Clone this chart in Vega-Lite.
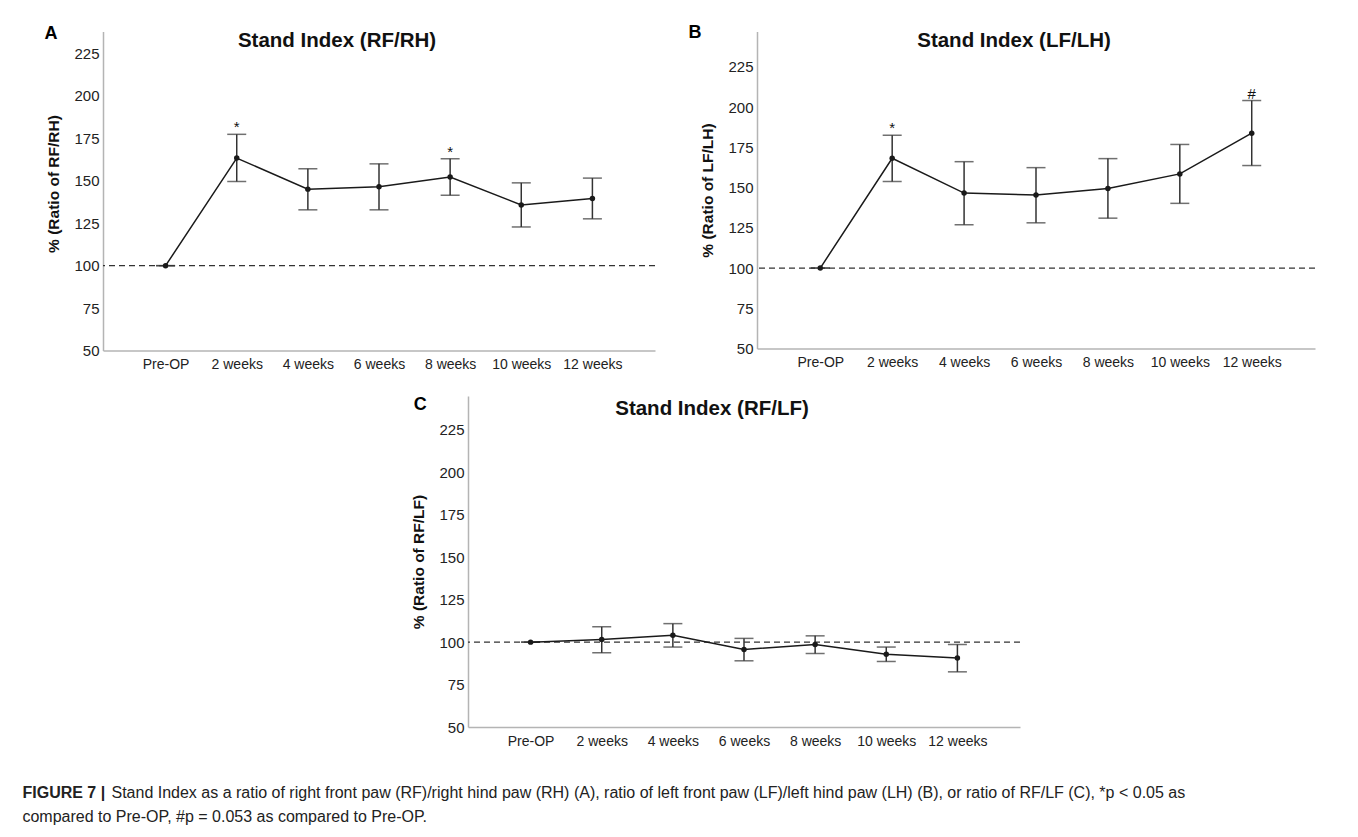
{
  "$schema": "https://vega.github.io/schema/vega-lite/v6.json",
  "background": "white",
  "padding": {"left": 22, "top": 23.5, "right": 0, "bottom": 0},
  "autosize": {"type": "pad"},
  "config": {
    "view": {"stroke": null},
    "font": "Liberation Sans",
    "axisY": {
      "domainColor": "#b4b4b4", "domainWidth": 1.5, "ticks": false, "tickSize": 0, "grid": false,
      "labelFont": "Liberation Sans", "labelFontSize": 15, "labelColor": "#222222", "labelPadding": 4,
      "titleFont": "Liberation Sans", "titleFontSize": 15.5, "titleFontWeight": "bold", "titleColor": "#111111", "titlePadding": 12
    },
    "axisX": {
      "domainColor": "#b4b4b4", "domainWidth": 1.5, "ticks": false, "tickSize": 0, "grid": false,
      "labelFont": "Liberation Sans", "labelFontSize": 14, "labelColor": "#222222", "labelPadding": 7, "labelAngle": 0
    }
  },
  "datasets": {
    "stand": [
      {"panel": "A", "time": "Pre-OP", "mean": 100, "lo": 100, "hi": 100, "sig": ""},
      {"panel": "A", "time": "2 weeks", "mean": 163.4, "lo": 149.6, "hi": 177.4, "sig": "*"},
      {"panel": "A", "time": "4 weeks", "mean": 145.1, "lo": 132.9, "hi": 157.1, "sig": ""},
      {"panel": "A", "time": "6 weeks", "mean": 146.5, "lo": 132.9, "hi": 160.0, "sig": ""},
      {"panel": "A", "time": "8 weeks", "mean": 152.2, "lo": 141.5, "hi": 163.0, "sig": "*"},
      {"panel": "A", "time": "10 weeks", "mean": 135.8, "lo": 122.8, "hi": 148.8, "sig": ""},
      {"panel": "A", "time": "12 weeks", "mean": 139.6, "lo": 127.6, "hi": 151.6, "sig": ""},
      {"panel": "B", "time": "Pre-OP", "mean": 100, "lo": 100, "hi": 100, "sig": ""},
      {"panel": "B", "time": "2 weeks", "mean": 168.2, "lo": 153.8, "hi": 182.5, "sig": "*"},
      {"panel": "B", "time": "4 weeks", "mean": 146.6, "lo": 126.9, "hi": 166.1, "sig": ""},
      {"panel": "B", "time": "6 weeks", "mean": 145.4, "lo": 128.1, "hi": 162.4, "sig": ""},
      {"panel": "B", "time": "8 weeks", "mean": 149.5, "lo": 131.0, "hi": 168.0, "sig": ""},
      {"panel": "B", "time": "10 weeks", "mean": 158.5, "lo": 140.2, "hi": 176.8, "sig": ""},
      {"panel": "B", "time": "12 weeks", "mean": 183.8, "lo": 163.7, "hi": 204.1, "sig": "#"},
      {"panel": "C", "time": "Pre-OP", "mean": 100, "lo": 100, "hi": 100, "sig": ""},
      {"panel": "C", "time": "2 weeks", "mean": 101.6, "lo": 93.7, "hi": 109.0, "sig": ""},
      {"panel": "C", "time": "4 weeks", "mean": 104.1, "lo": 97.1, "hi": 110.9, "sig": ""},
      {"panel": "C", "time": "6 weeks", "mean": 95.7, "lo": 89.0, "hi": 102.2, "sig": ""},
      {"panel": "C", "time": "8 weeks", "mean": 98.6, "lo": 93.3, "hi": 103.7, "sig": ""},
      {"panel": "C", "time": "10 weeks", "mean": 92.9, "lo": 88.6, "hi": 97.1, "sig": ""},
      {"panel": "C", "time": "12 weeks", "mean": 90.6, "lo": 82.5, "hi": 98.6, "sig": ""}
    ],
    "baseline": [{"ref": 100}]
  },
  "title": {
    "text": "compared to Pre-OP, #p = 0.053 as compared to Pre-OP.",
    "orient": "bottom", "anchor": "start", "frame": "bounds",
    "font": "Liberation Sans", "fontSize": 16, "fontWeight": "normal", "color": "#222222",
    "offset": 8, "dx": 0
  },
  "resolve": {"scale": {"x": "independent", "y": "independent"}},
  "vconcat": [
    {
      "title": {
        "text": "Stand Index as a ratio of right front paw (RF)/right hind paw (RH) (A), ratio of left front paw (LF)/left hind paw (LH) (B), or ratio of RF/LF (C), *p < 0.05 as",
        "orient": "bottom", "anchor": "start", "frame": "bounds",
        "font": "Liberation Sans", "fontSize": 16, "fontWeight": "normal", "color": "#222222",
        "offset": -16, "dx": 89
      },
      "resolve": {"scale": {"x": "independent", "y": "independent"}},
      "vconcat": [
        {
          "title": {
            "text": "FIGURE 7 |",
            "orient": "bottom", "anchor": "start", "frame": "bounds",
            "font": "Liberation Sans", "fontSize": 16, "fontWeight": "bold", "color": "#222222",
            "offset": 37, "dx": -22
          },
          "resolve": {"scale": {"x": "independent", "y": "independent"}},
          "spacing": 23.5,
          "vconcat": [
            {
              "spacing": 32,
              "resolve": {"scale": {"x": "independent", "y": "independent"}},
              "hconcat": [
                {
                  "title": {"text": "A", "anchor": "start", "frame": "bounds", "baseline": "alphabetic", "offset": -25.5, "dx": -2.5, "fontSize": 18, "fontWeight": "bold", "color": "#000000"},
                  "vconcat": [
                    {
                      "width": 552, "height": 319,
                      "title": {"text": "Stand Index (RF/RH)", "anchor": "middle", "baseline": "alphabetic", "offset": -36, "dx": -42, "fontSize": 20.5, "fontWeight": "bold", "color": "#111111"},
                      "layer": [
                        {
                          "data": {"name": "baseline"},
                          "mark": {"type": "rule", "strokeDash": [6, 4], "color": "#333333", "strokeWidth": 1.2},
                          "encoding": {"y": {"field": "ref", "type": "quantitative", "scale": {"domain": [50, 238], "nice": false, "zero": false}, "axis": {"values": [50, 75, 100, 125, 150, 175, 200, 225], "title": "% (Ratio of RF/RH)", "titleY": 152}}}
                        },
                        {
                          "data": {"name": "stand"},
                          "transform": [{"filter": "datum.panel == 'A'"}],
                          "encoding": {
                            "x": {"field": "time", "type": "ordinal", "sort": ["Pre-OP", "2 weeks", "4 weeks", "6 weeks", "8 weeks", "10 weeks", "12 weeks"], "scale": {"type": "point", "padding": 0.88}, "axis": {"title": null}}
                          },
                          "layer": [
                            {"mark": {"type": "rule", "color": "#333333", "strokeWidth": 1.5}, "encoding": {"y": {"field": "lo", "type": "quantitative"}, "y2": {"field": "hi"}}},
                            {"mark": {"type": "tick", "orient": "horizontal", "size": 19, "thickness": 1.5, "color": "#333333"}, "encoding": {"y": {"field": "lo", "type": "quantitative"}}},
                            {"mark": {"type": "tick", "orient": "horizontal", "size": 19, "thickness": 1.5, "color": "#333333"}, "encoding": {"y": {"field": "hi", "type": "quantitative"}}},
                            {"mark": {"type": "line", "color": "#1a1a1a", "strokeWidth": 1.5}, "encoding": {"y": {"field": "mean", "type": "quantitative"}}},
                            {"mark": {"type": "point", "filled": true, "size": 30, "color": "#1a1a1a", "opacity": 1}, "encoding": {"y": {"field": "mean", "type": "quantitative"}}},
                            {"mark": {"type": "text", "baseline": "alphabetic", "dy": -2, "fontSize": 15, "color": "#111111"}, "encoding": {"y": {"field": "hi", "type": "quantitative"}, "text": {"field": "sig"}}}
                          ]
                        }
                      ]
                    }
                  ]
                },
                {
                  "title": {"text": "B", "anchor": "start", "frame": "bounds", "baseline": "alphabetic", "offset": -25.5, "dx": -12.4, "fontSize": 18, "fontWeight": "bold", "color": "#000000"},
                  "vconcat": [
                    {
                      "width": 558, "height": 317,
                      "title": {"text": "Stand Index (LF/LH)", "anchor": "middle", "baseline": "alphabetic", "offset": -35.5, "dx": -22, "fontSize": 20.5, "fontWeight": "bold", "color": "#111111"},
                      "layer": [
                        {
                          "data": {"name": "baseline"},
                          "mark": {"type": "rule", "strokeDash": [6, 4], "color": "#333333", "strokeWidth": 1.2},
                          "encoding": {"y": {"field": "ref", "type": "quantitative", "scale": {"domain": [50, 247], "nice": false, "zero": false}, "axis": {"values": [50, 75, 100, 125, 150, 175, 200, 225], "title": "% (Ratio of LF/LH)"}}}
                        },
                        {
                          "data": {"name": "stand"},
                          "transform": [{"filter": "datum.panel == 'B'"}],
                          "encoding": {
                            "x": {"field": "time", "type": "ordinal", "sort": ["Pre-OP", "2 weeks", "4 weeks", "6 weeks", "8 weeks", "10 weeks", "12 weeks"], "scale": {"type": "point", "padding": 0.88}, "axis": {"title": null}}
                          },
                          "layer": [
                            {"mark": {"type": "rule", "color": "#333333", "strokeWidth": 1.5}, "encoding": {"y": {"field": "lo", "type": "quantitative"}, "y2": {"field": "hi"}}},
                            {"mark": {"type": "tick", "orient": "horizontal", "size": 19, "thickness": 1.5, "color": "#333333"}, "encoding": {"y": {"field": "lo", "type": "quantitative"}}},
                            {"mark": {"type": "tick", "orient": "horizontal", "size": 19, "thickness": 1.5, "color": "#333333"}, "encoding": {"y": {"field": "hi", "type": "quantitative"}}},
                            {"mark": {"type": "line", "color": "#1a1a1a", "strokeWidth": 1.5}, "encoding": {"y": {"field": "mean", "type": "quantitative"}}},
                            {"mark": {"type": "point", "filled": true, "size": 30, "color": "#1a1a1a", "opacity": 1}, "encoding": {"y": {"field": "mean", "type": "quantitative"}}},
                            {"mark": {"type": "text", "baseline": "alphabetic", "dy": -2, "fontSize": 15, "color": "#111111"}, "encoding": {"y": {"field": "hi", "type": "quantitative"}, "text": {"field": "sig"}}}
                          ]
                        }
                      ]
                    }
                  ]
                }
              ]
            },
            {
              "spacing": 1,
              "resolve": {"scale": {"x": "independent", "y": "independent"}},
              "hconcat": [
                {"width": 307, "height": 10, "data": {"values": []}, "mark": "point", "encoding": {}},
                {
                  "title": {"text": "C", "anchor": "start", "frame": "bounds", "baseline": "alphabetic", "offset": -31.5, "dx": 1.75, "fontSize": 18, "fontWeight": "bold", "color": "#000000"},
                  "vconcat": [
                    {
                      "width": 552, "height": 331,
                      "title": {"text": "Stand Index (RF/LF)", "anchor": "middle", "baseline": "alphabetic", "offset": -39, "dx": -32, "fontSize": 20.5, "fontWeight": "bold", "color": "#111111"},
                      "layer": [
                        {
                          "data": {"name": "baseline"},
                          "mark": {"type": "rule", "strokeDash": [6, 4], "color": "#333333", "strokeWidth": 1.2},
                          "encoding": {"y": {"field": "ref", "type": "quantitative", "scale": {"domain": [50, 245], "nice": false, "zero": false}, "axis": {"values": [50, 75, 100, 125, 150, 175, 200, 225], "title": "% (Ratio of RF/LF)"}}}
                        },
                        {
                          "data": {"name": "stand"},
                          "transform": [{"filter": "datum.panel == 'C'"}],
                          "encoding": {
                            "x": {"field": "time", "type": "ordinal", "sort": ["Pre-OP", "2 weeks", "4 weeks", "6 weeks", "8 weeks", "10 weeks", "12 weeks"], "scale": {"type": "point", "padding": 0.88}, "axis": {"title": null}}
                          },
                          "layer": [
                            {"mark": {"type": "rule", "color": "#333333", "strokeWidth": 1.5}, "encoding": {"y": {"field": "lo", "type": "quantitative"}, "y2": {"field": "hi"}}},
                            {"mark": {"type": "tick", "orient": "horizontal", "size": 19, "thickness": 1.5, "color": "#333333"}, "encoding": {"y": {"field": "lo", "type": "quantitative"}}},
                            {"mark": {"type": "tick", "orient": "horizontal", "size": 19, "thickness": 1.5, "color": "#333333"}, "encoding": {"y": {"field": "hi", "type": "quantitative"}}},
                            {"mark": {"type": "line", "color": "#1a1a1a", "strokeWidth": 1.5}, "encoding": {"y": {"field": "mean", "type": "quantitative"}}},
                            {"mark": {"type": "point", "filled": true, "size": 30, "color": "#1a1a1a", "opacity": 1}, "encoding": {"y": {"field": "mean", "type": "quantitative"}}}
                          ]
                        }
                      ]
                    }
                  ]
                }
              ]
            }
          ]
        }
      ]
    }
  ]
}
